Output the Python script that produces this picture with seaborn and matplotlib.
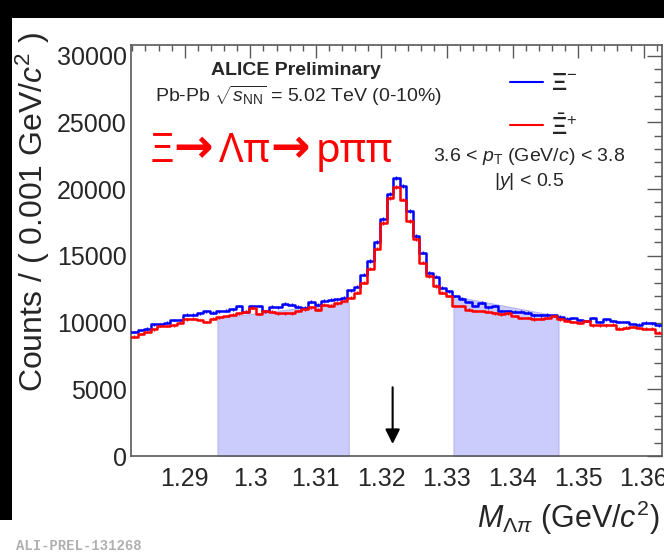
import numpy as np
import matplotlib
matplotlib.use("Agg")
import matplotlib.pyplot as plt
import seaborn as sns
import pandas as pd
from matplotlib.lines import Line2D
from matplotlib.patches import Rectangle
from matplotlib.ticker import MultipleLocator

# invariant mass binning (GeV/c^2)
first_edge = 1.2818
bin_width = 0.001

# counts per bin, Xi- (blue) and anti-Xi+ (red)
xi_minus = [9300, 9450, 9550, 9870, 9870, 10000, 10200, 10200, 10600, 10600,
            10700, 10850, 10750, 10850, 10900, 11000, 11240, 10800, 11230, 11240,
            10850, 11200, 11150, 11400, 11350, 11180, 11100, 11570, 11350, 11650,
            11700, 11750, 11850, 12420, 12700, 13590, 14610, 16030, 17780, 19670,
            20850, 20220, 18350, 16480, 15240, 13740, 13440, 12620, 12340, 11990,
            11800, 11540, 11240, 11490, 11150, 11240, 10870, 10870, 10800, 10800,
            10750, 10550, 10550, 10600, 10550, 10450, 10300, 10350, 10200, 10120,
            10350, 10050, 10250, 10120, 10050, 10050, 9900, 9850, 10000, 9950, 9800]
xi_plus = [8950, 9130, 9300, 9500, 9750, 9750, 9800, 10000, 10250, 10300,
           10200, 10050, 10300, 10380, 10500, 10600, 10700, 10800, 11100, 10650,
           10850, 10800, 10700, 10700, 10700, 10870, 11000, 11150, 10950, 11350,
           11250, 11450, 11620, 11870, 12240, 12990, 14040, 15540, 17480, 19350,
           20170, 19220, 17600, 16230, 14490, 13490, 12740, 12240, 11990, 11240,
           11240, 10950, 10870, 10870, 10800, 10700, 10620, 10700, 10500, 10350,
           10350, 10250, 10300, 10350, 10500, 10250, 10150, 10050, 10000, 10120,
           9800, 9800, 9800, 9850, 9550, 9620, 9700, 9600, 9550, 9550, 9250]

# side bands
band_lo = [1.295, 1.331]
band_hi = [1.315, 1.347]
band_top_lo = [10330, 11980]
band_top_hi = [11530, 10480]

xi_mass = 1.32171
arrow_from = 5150
arrow_to = 900

W, H = 664, 552

def fx(px):
    return px / W

def fy(py):
    return 1 - py / H

sns.set_style("white")
plt.rcParams['font.family'] = ['Liberation Sans', 'DejaVu Sans']
plt.rcParams['mathtext.fontset'] = 'custom'
plt.rcParams['mathtext.rm'] = 'Liberation Sans'
plt.rcParams['mathtext.it'] = 'Liberation Sans:italic'
plt.rcParams['mathtext.bf'] = 'Liberation Sans:bold'

n = len(xi_minus)
edges = first_edge + bin_width * np.arange(n + 1)
centers = edges[:-1] + bin_width / 2
df = pd.DataFrame({"m": np.concatenate([centers, centers]),
                   "counts": xi_minus + xi_plus,
                   "particle": ["minus"] * n + ["plus"] * n})

fig = plt.figure(figsize=(6.64, 5.52), dpi=100)
ax = fig.add_axes([fx(131), fy(456), fx(662) - fx(131), fy(45) - fy(456)])

for lo, hi, t0, t1 in zip(band_lo, band_hi, band_top_lo, band_top_hi):
    ax.fill_between([lo, hi], [0, 0], [t0, t1], facecolor="#ccccfc",
                    edgecolor="#b4b4ee", linewidth=0.8, zorder=1)

rng = (float(edges[0]), float(edges[-1]))
sns.histplot(data=df[df.particle == "minus"], x="m", weights="counts", bins=n,
             binrange=rng, element="step", fill=False, color="#0000ff",
             linewidth=1.8, ax=ax, zorder=3)
sns.histplot(data=df[df.particle == "plus"], x="m", weights="counts", bins=n,
             binrange=rng, element="step", fill=False, color="#ff0000",
             linewidth=1.8, ax=ax, zorder=4)
ax.errorbar(centers, xi_minus, yerr=np.sqrt(xi_minus), fmt="none", ecolor="#0000ff",
            elinewidth=1, zorder=3)
ax.errorbar(centers, xi_plus, yerr=np.sqrt(xi_plus), fmt="none", ecolor="#ff0000",
            elinewidth=1, zorder=4)

ax.annotate("", xy=(xi_mass, arrow_to), xytext=(xi_mass, arrow_from),
            arrowprops=dict(arrowstyle="-|>", color="black", lw=1.5,
                            mutation_scale=22, shrinkA=0, shrinkB=0))

ax.set_xlim(edges[0], edges[-1])
ax.set_ylim(0, 30800)
ax.set_xlabel("")
ax.set_ylabel("")
ax.xaxis.set_minor_locator(MultipleLocator(0.002))
ax.yaxis.set_major_locator(MultipleLocator(5000))
ax.yaxis.set_minor_locator(MultipleLocator(1000))
ax.set_xticks([1.29, 1.30, 1.31, 1.32, 1.33, 1.34, 1.35, 1.36])
ax.set_xticklabels(["1.29", "1.3", "1.31", "1.32", "1.33", "1.34", "1.35", "1.36"])
ax.tick_params(axis="both", which="both", direction="in", top=True, right=True,
               color="0.35", width=1, labelsize=18)
ax.tick_params(axis="x", which="major", length=9, pad=8)
ax.tick_params(axis="x", which="minor", length=4.5)
ax.tick_params(axis="y", which="major", length=11, pad=3)
ax.tick_params(axis="y", which="minor", length=6)
for s in ax.spines.values():
    s.set_color("0.35")
    s.set_linewidth(1.2)

fig.text(fx(33), fy(212), r"Counts / ( 0.001 GeV/$c^{2}$ )", rotation=90,
         ha="center", va="center", fontsize=23)
fig.text(fx(660), fy(528), r"$M_{\Lambda\pi}$ (GeV/$c^{2}$)", ha="right",
         va="baseline", fontsize=22)

fig.text(fx(296), fy(75), "ALICE Preliminary", ha="center", va="baseline",
         fontsize=14, fontweight="bold")
fig.text(fx(155), fy(102), r"Pb-Pb $\sqrt{s_{\rm NN}}$ = 5.02 TeV (0-10%)",
         ha="left", va="baseline", fontsize=14)

# red decay chain, written piece by piece so the arrows get their width
decay_parts = [("Ξ", 150, 29), ("→", 173, 34), ("Λπ", 219, 29), ("→", 270, 34), ("pππ", 316, 29)]
for part, px, size in decay_parts:
    fam = ["DejaVu Sans"] if part == "→" else ["Noto Sans", "DejaVu Sans"]
    fig.text(fx(px), fy(162), part, ha="left", va="baseline", fontsize=size,
             color="#ff0000", family=fam, fontweight="bold" if part == "→" else "normal")

fig.add_artist(Line2D([fx(510), fx(543)], [fy(81.7), fy(81.7)], color="#0000ff", lw=1.5))
fig.add_artist(Line2D([fx(510), fx(543)], [fy(125), fy(125)], color="#ff0000", lw=1.5))
fig.text(fx(551), fy(90), r"$\mathbf{\Xi}^{-}$", ha="left", va="baseline", fontsize=17)
fig.text(fx(551), fy(135), r"$\bar{\mathbf{\Xi}}^{+}$", ha="left", va="baseline", fontsize=17)
fig.text(fx(529), fy(161), r"3.6 < $p_{\rm T}$ (GeV/$c$) < 3.8", ha="center",
         va="baseline", fontsize=14)
fig.text(fx(529), fy(186), r"|$y$| < 0.5", ha="center", va="baseline", fontsize=14)

fig.text(fx(16), fy(550), "ALI-PREL-131268", ha="left", va="baseline", fontsize=10,
         color="#b0b0b0", family="Liberation Mono", fontweight="bold")

# black slide borders
fig.add_artist(Rectangle((0, fy(18)), 1, 1 - fy(18), transform=fig.transFigure,
                         facecolor="black", edgecolor="none"))
fig.add_artist(Rectangle((0, fy(520)), fx(12), fy(18) - fy(520), transform=fig.transFigure,
                         facecolor="black", edgecolor="none"))

fig.savefig("out.png", dpi=100)
